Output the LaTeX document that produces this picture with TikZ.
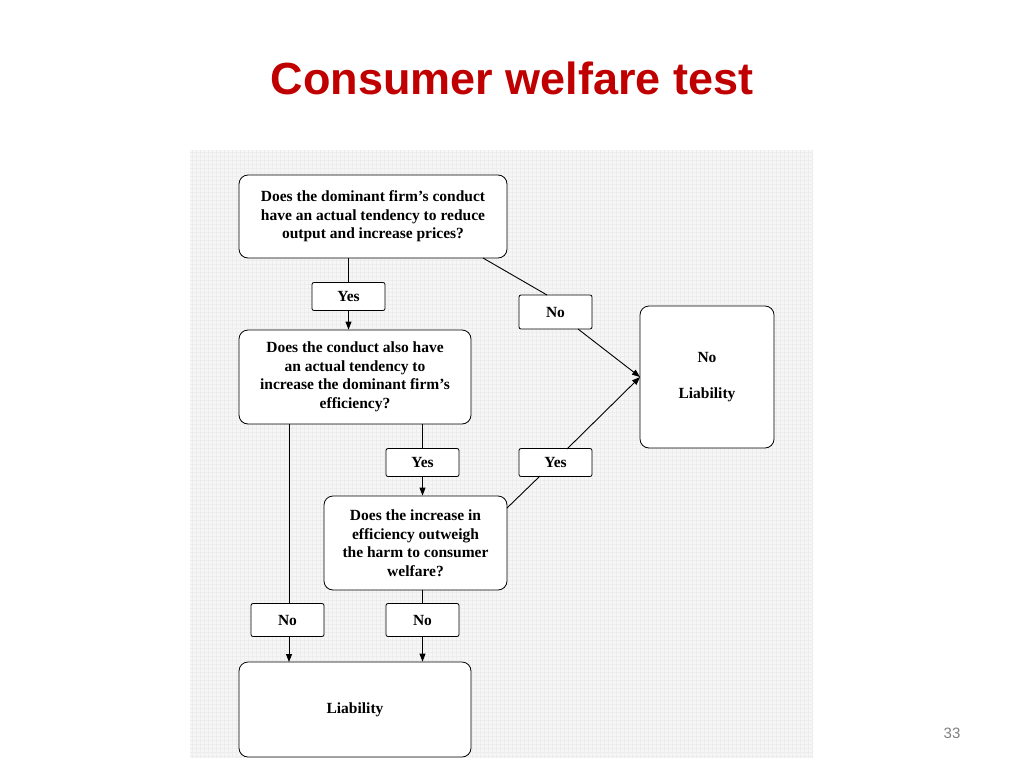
\documentclass[tikz,border=0pt]{standalone}
\usepackage{fontspec}
\setmainfont{Liberation Serif}
\newfontfamily\sans{Liberation Sans}
\usetikzlibrary{arrows.meta}
\definecolor{titlered}{RGB}{192,0,0}
\begin{document}
\begin{tikzpicture}[x=1pt,y=-1pt,
  qbox/.style={draw,line width=0.8pt,rounded corners=9pt,fill=white,align=center,font=\bfseries\fontsize{15.5}{18.5}\selectfont,inner sep=0pt},
  lbl/.style={draw,line width=0.8pt,rounded corners=2pt,fill=white,font=\bfseries\fontsize{15.5}{17}\selectfont,minimum width=73pt,minimum height=28pt,inner sep=0pt},
  conn/.style={draw,line width=0.9pt},
  arr/.style={conn,-{Triangle[length=8pt,width=6pt]}}]
\useasboundingbox (0,0) rectangle (1024,768);
\fill[white] (0,0) rectangle (1024,768);
\fill[gray!7] (190,150) rectangle (812,758);
\draw[gray!14,step=4pt,line width=0.3pt] (190,150) grid (812,758);
\node[font=\sans\bfseries\fontsize{45}{50}\selectfont,text=titlered] (title) at (512,78) {Consumer welfare test};
\node[font=\sans\fontsize{15}{17}\selectfont,text=gray] (pg) at (952,733) {33};
\node[qbox,minimum width=268pt,minimum height=83pt] (A) at (373,216.5) {Does the dominant firm’s conduct\\have an actual tendency to reduce\\output and increase prices?};
\node[lbl] (yA) at (348.5,296.5) {Yes};
\node[lbl,minimum height=34pt] (nA) at (555.5,312) {No};
\node[qbox,minimum width=232pt,minimum height=94pt] (B) at (355,377) {Does the conduct also have\\an actual tendency to\\increase the dominant firm’s\\efficiency?};
\node[qbox,minimum width=134pt,minimum height=142pt] (NL) at (707,377) {No\\[18pt]Liability};
\node[lbl] (yB) at (422.5,462.5) {Yes};
\node[lbl] (yC) at (555.5,462.5) {Yes};
\node[qbox,minimum width=183pt,minimum height=94pt] (C) at (415.5,543) {Does the increase in\\efficiency outweigh\\the harm to consumer\\welfare?};
\node[lbl,minimum height=33pt] (nB) at (287.5,620) {No};
\node[lbl,minimum height=33pt] (nC) at (422.5,620) {No};
\node[qbox,minimum width=232pt,minimum height=95pt] (L) at (355,709.5) {Liability};
\coordinate (NLin) at (640,377);
\draw[conn] (A.south -| yA) -- (yA.north);
\draw[arr] (yA.south) -- (yA.south |- B.north);
\draw[conn] (483,258) -- (547,295);
\draw[arr] (578,329) -- (NLin);
\draw[conn] (289,424) -- (289,604);
\draw[arr] (289,637) -- (289,662);
\draw[conn] (yB.north |- B.south) -- (yB.north);
\draw[arr] (yB.south) -- (yB.south |- C.north);
\draw[conn] (507,508) -- (540,476);
\draw[arr] (567,449) -- (NLin);
\draw[conn] (nC.north |- C.south) -- (nC.north);
\draw[arr] (nC.south) -- (nC.south |- L.north);
\end{tikzpicture}
\end{document}
